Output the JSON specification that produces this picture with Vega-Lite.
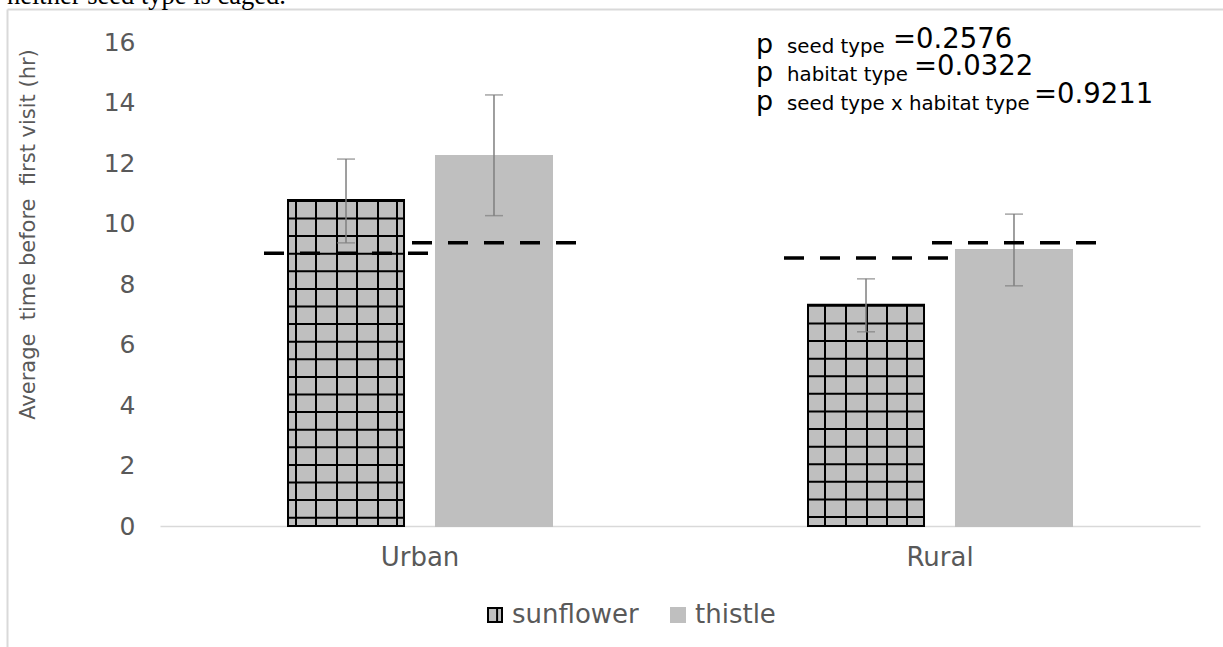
{
  "$schema": "https://vega.github.io/schema/vega-lite/v6.json",
  "width": 1216,
  "height": 638,
  "autosize": {"type": "none"},
  "padding": {"left": 7, "top": 9, "right": 0, "bottom": 0},
  "background": "#ffffff",
  "config": {"view": {"stroke": null}, "font": "DejaVu Sans"},
  "data": {"values": [
    {"habitat": "Urban", "seed": "sunflower", "mean": 10.78, "low": 9.36, "high": 12.13, "dashed": 9.02},
    {"habitat": "Urban", "seed": "thistle", "mean": 12.23, "low": 10.26, "high": 14.25, "dashed": 9.36},
    {"habitat": "Rural", "seed": "sunflower", "mean": 7.31, "low": 6.42, "high": 8.17, "dashed": 8.86},
    {"habitat": "Rural", "seed": "thistle", "mean": 9.12, "low": 7.94, "high": 10.31, "dashed": 9.36}
  ]},
  "resolve": {"scale": {"x": "independent", "y": "independent"}, "axis": {"x": "independent", "y": "independent"}},
  "layer": [
    {
      "data": {"values": [{"frame": 0}]},
      "mark": {"type": "point", "opacity": 0},
      "encoding": {
        "x": {"field": "frame", "type": "quantitative", "scale": {"domain": [0, 1], "range": [0, 1216], "nice": false, "zero": false},
          "axis": {"orient": "top", "domainColor": "#d9d9d9", "domainWidth": 2, "labels": false, "ticks": false, "grid": false, "title": null}},
        "y": {"field": "frame", "type": "quantitative", "scale": {"domain": [0, 1], "range": [0, 638], "nice": false, "zero": false},
          "axis": {"orient": "left", "domainColor": "#d9d9d9", "domainWidth": 2, "labels": false, "ticks": false, "grid": false, "title": null}}
      }
    },
    {
      "encoding": {
        "x": {"field": "habitat", "type": "nominal", "sort": ["Urban", "Rural"],
          "scale": {"range": [153, 1193], "paddingInner": 0, "paddingOuter": 0},
          "axis": {"orient": "bottom", "title": null, "offset": -121, "domainColor": "#d9d9d9", "domainWidth": 1.5, "ticks": false, "tickSize": 0, "labelAngle": 0, "labelFontSize": 26, "labelFont": "DejaVu Sans", "labelColor": "#595959", "labelPadding": 39, "labelBaseline": "alphabetic", "grid": false}}
      },
      "layer": [
        {
          "mark": {"type": "bar", "strokeWidth": 2},
          "encoding": {
            "xOffset": {"field": "seed", "type": "nominal", "scale": {"domain": ["sunflower", "thistle"], "paddingInner": 0.216, "paddingOuter": 0.865}},
            "y": {"field": "mean", "type": "quantitative",
              "scale": {"domain": [0, 16], "range": [517, 33], "nice": false},
              "axis": {"orient": "left", "title": "Average\u00a0 time before\u00a0 first visit (hr)", "values": [0, 2, 4, 6, 8, 10, 12, 14, 16], "offset": -153, "domain": false, "ticks": false, "tickSize": 0, "grid": false, "labelPadding": 25, "labelFontSize": 25, "labelFont": "DejaVu Sans", "labelColor": "#595959", "titleFont": "DejaVu Sans", "titleFontSize": 21, "titleFontWeight": "normal", "titleColor": "#595959", "titleAngle": 270, "titleX": -126, "titleY": 225, "titleAlign": "center", "titleBaseline": "alphabetic"}},
            "fill": {"field": "seed", "type": "nominal", "scale": {"domain": ["sunflower", "thistle"], "range": ["#bfbfbf", "#bfbfbf"]},
              "legend": {"title": null, "orient": "none", "legendX": 475, "legendY": 593, "direction": "horizontal", "symbolType": "M-1,-1H1V1H-1Z M0.3,-1V1", "symbolSize": 196, "symbolStrokeWidth": 2, "labelFontSize": 26, "labelFont": "DejaVu Sans", "labelColor": "#595959", "labelOffset": 4, "columnPadding": 26, "padding": 0}},
            "stroke": {"field": "seed", "type": "nominal", "scale": {"domain": ["sunflower", "thistle"], "range": ["#000000", "#bfbfbf"]},
              "legend": {"title": null, "orient": "none", "legendX": 475, "legendY": 593, "direction": "horizontal", "symbolType": "M-1,-1H1V1H-1Z M0.3,-1V1", "symbolSize": 196, "symbolStrokeWidth": 2, "labelFontSize": 26, "labelFont": "DejaVu Sans", "labelColor": "#595959", "labelOffset": 4, "columnPadding": 26, "padding": 0}}
          }
        },
        {
          "transform": [{"filter": "datum.seed === 'sunflower'"}],
          "mark": {"type": "rule", "strokeWidth": 116, "strokeDash": [2, 15.6], "color": "#000000", "strokeCap": "butt"},
          "encoding": {"xOffset": {"field": "seed", "type": "nominal"}, "y": {"field": "mean", "type": "quantitative"}, "y2": {"datum": 0}}
        },
        {"transform": [{"filter": "datum.seed === 'sunflower' && datum.habitat === 'Urban'"}], "mark": {"type": "rule", "strokeWidth": 2, "color": "#000000", "xOffset": -124},
          "encoding": {"x": {"field": "habitat", "type": "nominal", "sort": ["Urban", "Rural"], "bandPosition": 0.5}, "y": {"field": "mean", "type": "quantitative"}, "y2": {"datum": 0}}},
        {"transform": [{"filter": "datum.seed === 'sunflower' && datum.habitat === 'Urban'"}], "mark": {"type": "rule", "strokeWidth": 2, "color": "#000000", "xOffset": -104},
          "encoding": {"x": {"field": "habitat", "type": "nominal", "sort": ["Urban", "Rural"], "bandPosition": 0.5}, "y": {"field": "mean", "type": "quantitative"}, "y2": {"datum": 0}}},
        {"transform": [{"filter": "datum.seed === 'sunflower' && datum.habitat === 'Urban'"}], "mark": {"type": "rule", "strokeWidth": 2, "color": "#000000", "xOffset": -83},
          "encoding": {"x": {"field": "habitat", "type": "nominal", "sort": ["Urban", "Rural"], "bandPosition": 0.5}, "y": {"field": "mean", "type": "quantitative"}, "y2": {"datum": 0}}},
        {"transform": [{"filter": "datum.seed === 'sunflower' && datum.habitat === 'Urban'"}], "mark": {"type": "rule", "strokeWidth": 2, "color": "#000000", "xOffset": -63},
          "encoding": {"x": {"field": "habitat", "type": "nominal", "sort": ["Urban", "Rural"], "bandPosition": 0.5}, "y": {"field": "mean", "type": "quantitative"}, "y2": {"datum": 0}}},
        {"transform": [{"filter": "datum.seed === 'sunflower' && datum.habitat === 'Urban'"}], "mark": {"type": "rule", "strokeWidth": 2, "color": "#000000", "xOffset": -42},
          "encoding": {"x": {"field": "habitat", "type": "nominal", "sort": ["Urban", "Rural"], "bandPosition": 0.5}, "y": {"field": "mean", "type": "quantitative"}, "y2": {"datum": 0}}},
        {"transform": [{"filter": "datum.seed === 'sunflower' && datum.habitat === 'Urban'"}], "mark": {"type": "rule", "strokeWidth": 2, "color": "#000000", "xOffset": -23},
          "encoding": {"x": {"field": "habitat", "type": "nominal", "sort": ["Urban", "Rural"], "bandPosition": 0.5}, "y": {"field": "mean", "type": "quantitative"}, "y2": {"datum": 0}}},
        {"transform": [{"filter": "datum.seed === 'sunflower' && datum.habitat === 'Rural'"}], "mark": {"type": "rule", "strokeWidth": 2, "color": "#000000", "xOffset": -115},
          "encoding": {"x": {"field": "habitat", "type": "nominal", "sort": ["Urban", "Rural"], "bandPosition": 0.5}, "y": {"field": "mean", "type": "quantitative"}, "y2": {"datum": 0}}},
        {"transform": [{"filter": "datum.seed === 'sunflower' && datum.habitat === 'Rural'"}], "mark": {"type": "rule", "strokeWidth": 2, "color": "#000000", "xOffset": -94},
          "encoding": {"x": {"field": "habitat", "type": "nominal", "sort": ["Urban", "Rural"], "bandPosition": 0.5}, "y": {"field": "mean", "type": "quantitative"}, "y2": {"datum": 0}}},
        {"transform": [{"filter": "datum.seed === 'sunflower' && datum.habitat === 'Rural'"}], "mark": {"type": "rule", "strokeWidth": 2, "color": "#000000", "xOffset": -73},
          "encoding": {"x": {"field": "habitat", "type": "nominal", "sort": ["Urban", "Rural"], "bandPosition": 0.5}, "y": {"field": "mean", "type": "quantitative"}, "y2": {"datum": 0}}},
        {"transform": [{"filter": "datum.seed === 'sunflower' && datum.habitat === 'Rural'"}], "mark": {"type": "rule", "strokeWidth": 2, "color": "#000000", "xOffset": -53},
          "encoding": {"x": {"field": "habitat", "type": "nominal", "sort": ["Urban", "Rural"], "bandPosition": 0.5}, "y": {"field": "mean", "type": "quantitative"}, "y2": {"datum": 0}}},
        {"transform": [{"filter": "datum.seed === 'sunflower' && datum.habitat === 'Rural'"}], "mark": {"type": "rule", "strokeWidth": 2, "color": "#000000", "xOffset": -33},
          "encoding": {"x": {"field": "habitat", "type": "nominal", "sort": ["Urban", "Rural"], "bandPosition": 0.5}, "y": {"field": "mean", "type": "quantitative"}, "y2": {"datum": 0}}},
        {
          "mark": {"type": "rule", "strokeWidth": 1.5, "color": "#7f7f7f"},
          "encoding": {"xOffset": {"field": "seed", "type": "nominal"}, "y": {"field": "low", "type": "quantitative"}, "y2": {"field": "high"}}
        },
        {
          "mark": {"type": "tick", "orient": "horizontal", "size": 18, "thickness": 1.5, "color": "#7f7f7f"},
          "encoding": {"xOffset": {"field": "seed", "type": "nominal"}, "y": {"field": "low", "type": "quantitative"}}
        },
        {
          "mark": {"type": "tick", "orient": "horizontal", "size": 18, "thickness": 1.5, "color": "#7f7f7f"},
          "encoding": {"xOffset": {"field": "seed", "type": "nominal"}, "y": {"field": "high", "type": "quantitative"}}
        },
        {
          "transform": [{"filter": "datum.seed === 'sunflower'"}],
          "mark": {"type": "rule", "strokeWidth": 3.5, "strokeDash": [20, 16], "color": "#000000", "xOffset": -156, "x2Offset": 8},
          "encoding": {"x": {"field": "habitat", "type": "nominal", "sort": ["Urban", "Rural"], "bandPosition": 0.5}, "x2": {"field": "habitat", "bandPosition": 0.5}, "y": {"field": "dashed", "type": "quantitative"}}
        },
        {
          "transform": [{"filter": "datum.seed === 'thistle'"}],
          "mark": {"type": "rule", "strokeWidth": 3.5, "strokeDash": [20, 16], "color": "#000000", "xOffset": -8, "x2Offset": 156},
          "encoding": {"x": {"field": "habitat", "type": "nominal", "sort": ["Urban", "Rural"], "bandPosition": 0.5}, "x2": {"field": "habitat", "bandPosition": 0.5}, "y": {"field": "dashed", "type": "quantitative"}}
        },
        {
          "data": {"values": [{"t": "neither seed type is caged."}]},
          "mark": {"type": "text", "align": "left", "baseline": "alphabetic", "font": "Liberation Serif", "fontSize": 26.5, "color": "#000000", "dx": -413},
          "encoding": {"x": {"datum": "Urban"}, "y": {"datum": 17.26}, "text": {"field": "t"}}
        },
        {
          "data": {"values": [{"t": ["p", "p", "p"]}]},
          "mark": {"type": "text", "align": "left", "baseline": "alphabetic", "fontSize": 27, "lineHeight": 28.5, "color": "#000000", "dx": -184},
          "encoding": {"x": {"datum": "Rural"}, "y": {"datum": 15.64}, "text": {"field": "t"}}
        },
        {
          "data": {"values": [{"t": ["seed type", "habitat type", "seed type x habitat type"]}]},
          "mark": {"type": "text", "align": "left", "baseline": "alphabetic", "fontSize": 19.8, "lineHeight": 28.5, "color": "#000000", "dx": -153},
          "encoding": {"x": {"datum": "Rural"}, "y": {"datum": 15.64}, "text": {"field": "t"}}
        },
        {
          "data": {"values": [{"t": "=0.2576"}]},
          "mark": {"type": "text", "align": "left", "baseline": "alphabetic", "fontSize": 27.5, "color": "#000000", "dx": -47},
          "encoding": {"x": {"datum": "Rural"}, "y": {"datum": 15.8}, "text": {"field": "t"}}
        },
        {
          "data": {"values": [{"t": "=0.0322"}]},
          "mark": {"type": "text", "align": "left", "baseline": "alphabetic", "fontSize": 27.5, "color": "#000000", "dx": -26},
          "encoding": {"x": {"datum": "Rural"}, "y": {"datum": 14.91}, "text": {"field": "t"}}
        },
        {
          "data": {"values": [{"t": "=0.9211"}]},
          "mark": {"type": "text", "align": "left", "baseline": "alphabetic", "fontSize": 27.5, "color": "#000000", "dx": 94},
          "encoding": {"x": {"datum": "Rural"}, "y": {"datum": 13.98}, "text": {"field": "t"}}
        }
      ]
    }
  ]
}
